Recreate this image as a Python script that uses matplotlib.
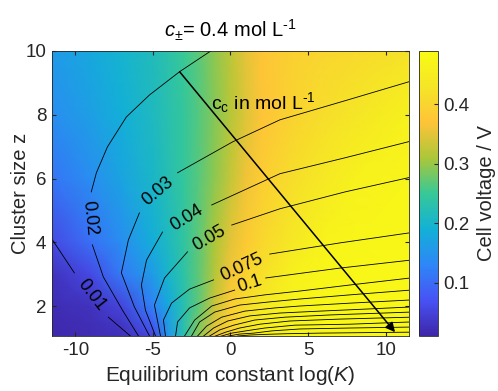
import numpy as np
import matplotlib.pyplot as plt
from matplotlib.colors import LinearSegmentedColormap

nan = np.nan

logk_nodes = [-11.5, -9, -7, -5, -4, -3, -2, -1, 0, 1, 2, 4, 6, 8, 11.5]
z_nodes = [1, 1.5, 2, 3, 4, 6, 8, 10]
volt_z1 = [0.015, 0.018, 0.022, 0.052, 0.150, 0.228, 0.297, 0.360, 0.404, 0.435, 0.465, 0.475, 0.480, 0.480, 0.480]
volt_z1_5 = [0.017, 0.022, 0.035, 0.085, 0.165, 0.228, 0.285, 0.345, 0.395, 0.425, 0.455, 0.473, 0.479, 0.480, 0.480]
volt_z2 = [0.020, 0.028, 0.052, 0.125, 0.177, 0.226, 0.272, 0.332, 0.385, 0.414, 0.440, 0.470, 0.478, 0.480, 0.480]
volt_z3 = [0.028, 0.057, 0.115, 0.160, 0.200, 0.236, 0.272, 0.318, 0.362, 0.397, 0.420, 0.460, 0.475, 0.480, 0.480]
volt_z4 = [0.058, 0.105, 0.140, 0.185, 0.212, 0.240, 0.272, 0.310, 0.350, 0.383, 0.405, 0.440, 0.468, 0.476, 0.480]
volt_z6 = [0.110, 0.140, 0.172, 0.205, 0.225, 0.246, 0.268, 0.295, 0.327, 0.360, 0.385, 0.415, 0.440, 0.462, 0.473]
volt_z8 = [0.140, 0.165, 0.188, 0.212, 0.228, 0.246, 0.266, 0.290, 0.318, 0.347, 0.370, 0.398, 0.415, 0.432, 0.462]
volt_z10 = [0.158, 0.178, 0.196, 0.218, 0.232, 0.250, 0.270, 0.295, 0.322, 0.350, 0.372, 0.393, 0.402, 0.410, 0.425]

# c_c contour lines (log K, z), nan = gap for the inline label
c010_k = [-11.6, -10.06, nan, -7.87, -6.45, -6.35]
c010_z = [4.17, 3.04, nan, 1.65, 1.06, 1.0]
c020_k = [-1.15, -3.28, -5.22, -6.71, -7.93, -8.64, -8.97, nan, -8.90, -8.19, -6.96, -5.93, -5.86]
c020_z = [10.04, 9.35, 8.62, 7.93, 6.99, 6.18, 5.58, nan, 3.92, 2.91, 1.87, 1.06, 1.0]
c030_k = [-5.87, -6.58, -7.03, -6.19, -5.22, -5.15, nan, -3.41, 0.14, 3.18, 7.38, 11.6]
c030_z = [4.92, 4.07, 3.04, 1.97, 1.06, 1.0, nan, 6.18, 7.15, 7.84, 8.44, 9.05]
c040_k = [-4.38, -5.41, -5.74, -5.48, -4.83, -4.79, nan, -1.21, 3.18, 7.38, 11.6]
c040_z = [4.32, 3.44, 2.66, 1.87, 1.06, 1.0, nan, 5.17, 6.15, 6.65, 7.17]
c050_k = [-2.77, -4.25, -4.90, -4.51, -4.47, nan, 0.08, 3.18, 7.38, 11.6]
c050_z = [3.70, 2.88, 2.03, 1.06, 1.0, nan, 4.54, 5.05, 5.58, 6.04]
c075_k = [-1.09, -2.64, -3.80, -4.32, -4.19, -4.17, nan, 2.53, 7.05, 11.6]
c075_z = [2.82, 2.53, 2.09, 1.56, 1.06, 1.0, nan, 3.63, 3.98, 4.30]
c100_k = [0.27, -1.34, -2.64, -3.41, -3.54, -3.55, nan, 2.27, 7.05, 11.6]
c100_z = [2.50, 2.25, 1.94, 1.50, 1.06, 1.0, nan, 2.88, 3.19, 3.44]
c125_k = [-3.05, -2.96, -2.31, -1.21, 0.27, 2.21, 4.47, 7.70, 11.6]
c125_z = [1.0, 1.06, 1.56, 2.00, 2.22, 2.35, 2.47, 2.66, 2.88]
c150_k = [-2.59, -2.51, -1.99, -1.02, 0.59, 2.53, 4.47, 7.70, 11.6]
c150_z = [1.0, 1.06, 1.50, 1.81, 2.03, 2.13, 2.22, 2.35, 2.50]
c175_k = [-2.23, -2.12, -1.54, -0.57, 0.92, 2.86, 4.47, 7.70, 11.6]
c175_z = [1.0, 1.06, 1.37, 1.65, 1.84, 1.94, 2.00, 2.09, 2.19]
c200_k = [-1.85, -1.73, -1.09, -0.18, 1.24, 3.18, 5.76, 8.99, 11.6]
c200_z = [1.0, 1.06, 1.31, 1.53, 1.69, 1.78, 1.84, 1.91, 1.97]
c225_k = [-1.55, -1.34, -0.70, 0.21, 1.56, 3.50, 6.41, 11.6]
c225_z = [1.0, 1.06, 1.25, 1.40, 1.56, 1.65, 1.72, 1.81]
c250_k = [-1.3, -0.96, -0.31, 0.59, 1.89, 3.82, 7.05, 11.6]
c250_z = [1.0, 1.06, 1.18, 1.31, 1.43, 1.53, 1.59, 1.65]
c275_k = [-1.0, -0.57, 0.08, 0.98, 2.21, 4.15, 7.70, 11.6]
c275_z = [1.0, 1.06, 1.15, 1.22, 1.31, 1.40, 1.43, 1.50]
c300_k = [-0.7, -0.12, 0.59, 1.50, 2.66, 4.47, 7.70, 11.6]
c300_z = [1.0, 1.06, 1.12, 1.15, 1.22, 1.28, 1.31, 1.34]
c325_k = [0.0, 0.47, 1.24, 2.21, 3.50, 5.76, 11.6]
c325_z = [1.0, 1.06, 1.09, 1.11, 1.13, 1.15, 1.18]

# inline contour labels
label_text = ["0.01", "0.02", "0.03", "0.04", "0.05", "0.075", "0.1"]
label_k = [-8.97, -9.10, -4.70, -2.80, -1.34, 0.72, 1.27]
label_z = [2.35, 4.76, 5.60, 4.75, 4.12, 3.22, 2.69]
label_rot = [-52, -84, 40, 32, 30, 25, 18]

# arrow through the contour set
arrow_start = (-3.28, 9.35)
arrow_end = (10.6, 1.18)

plt.rcParams['font.family'] = ['Liberation Sans', 'DejaVu Sans']
plt.rcParams['mathtext.fontset'] = 'custom'
plt.rcParams['mathtext.rm'] = 'Liberation Sans'
plt.rcParams['mathtext.it'] = 'Liberation Sans:italic'
plt.rcParams['axes.unicode_minus'] = False

# parula-like colormap
parula = LinearSegmentedColormap.from_list("parula", [
    (0.2422, 0.1504, 0.6603), (0.2810, 0.3228, 0.9579), (0.1786, 0.5289, 0.9682),
    (0.0689, 0.6948, 0.8394), (0.2161, 0.7843, 0.5923), (0.6720, 0.7793, 0.2227),
    (0.9970, 0.7659, 0.2199), (0.9598, 0.8989, 0.1537), (0.9769, 0.9839, 0.0805)])

fig = plt.figure(figsize=(4.98, 3.91), dpi=100)
ax = fig.add_axes([0.1044, 0.1407, 0.7169, 0.7289])
cax = fig.add_axes([0.8414, 0.1407, 0.0382, 0.7289])

KK, ZZ = np.meshgrid(logk_nodes, z_nodes)
V = np.array([volt_z1, volt_z1_5, volt_z2, volt_z3, volt_z4, volt_z6, volt_z8, volt_z10])
mesh = ax.pcolormesh(KK, ZZ, V, shading='gouraud', cmap=parula, vmin=0.01, vmax=0.49)

lines = [(c010_k, c010_z), (c020_k, c020_z), (c030_k, c030_z), (c040_k, c040_z),
         (c050_k, c050_z), (c075_k, c075_z), (c100_k, c100_z), (c125_k, c125_z),
         (c150_k, c150_z), (c175_k, c175_z), (c200_k, c200_z), (c225_k, c225_z),
         (c250_k, c250_z), (c275_k, c275_z), (c300_k, c300_z), (c325_k, c325_z)]
for k, z in lines:
    ax.plot(k, z, color='k', lw=0.6)

for s, k, z, r in zip(label_text, label_k, label_z, label_rot):
    ax.text(k, z, s, rotation=r, ha='center', va='center', fontsize=13,
            rotation_mode='anchor')

ax.annotate('', xy=arrow_end, xytext=arrow_start,
            arrowprops=dict(arrowstyle='-|>', color='k', lw=1.1,
                            mutation_scale=14, shrinkA=0, shrinkB=0))
ax.text(-1.28, 8.37, r'c$_{\rm c}$ in mol L$^{\text{-1}}$', fontsize=14,
        ha='left', va='center')

ax.set_xlim(-11.5, 11.5)
ax.set_ylim(1.06, 10)
ax.set_xticks([-10, -5, 0, 5, 10])
ax.set_yticks([2, 4, 6, 8, 10])
ax.tick_params(direction='in', top=True, right=True, length=3, labelsize=13.5,
               color='0.15', labelcolor='0.15', pad=4)
for sp in ax.spines.values():
    sp.set_color('0.15')
    sp.set_linewidth(0.6)
ax.set_xlabel(r'Equilibrium constant log($K$)', fontsize=15, color='0.15', labelpad=4)
ax.set_ylabel('Cluster size z', fontsize=14.5, color='0.15', labelpad=-3)
ax.set_title(r'$c_{\pm}$= 0.4 mol L$^{\text{-1}}$', fontsize=14.5, pad=10)

cb = fig.colorbar(mesh, cax=cax)
cb.set_ticks([0.1, 0.2, 0.3, 0.4])
cb.set_ticklabels(['0.1', '0.2', '0.3', '0.4'])
cax.tick_params(direction='in', length=3, labelsize=13.5, color='0.15', labelcolor='0.15')
cb.outline.set_edgecolor('0.15')
cb.outline.set_linewidth(0.6)
cb.set_label('Cell voltage / V', fontsize=14.5, color='0.15', labelpad=6)

fig.savefig('out.png', dpi=100)
